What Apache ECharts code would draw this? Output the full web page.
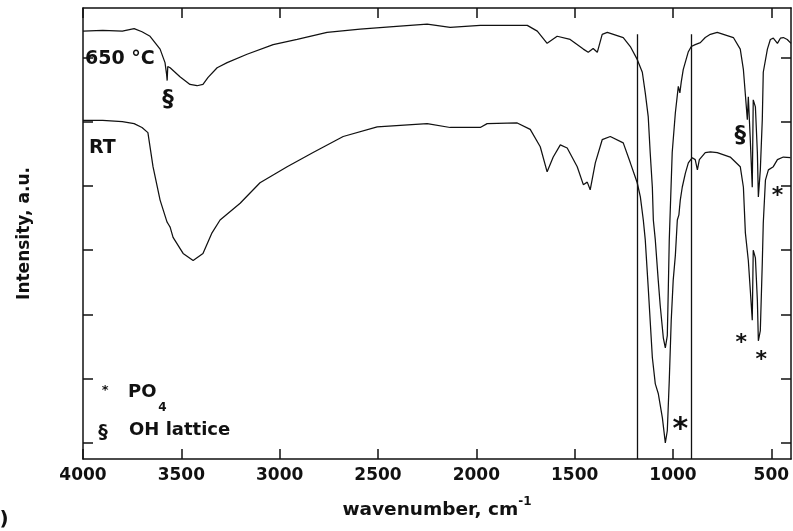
<!DOCTYPE html>
<html>
<head>
<meta charset="utf-8">
<script src="https://cdn.jsdelivr.net/npm/echarts@6/dist/echarts.min.js"></script>
<style>
  html, body { margin: 0; padding: 0; background: #fff; }
  #box { width: 793px; height: 531px; }
</style>
</head>
<body>
<div id="box"></div>
<script>
// FTIR spectra, RT and 650 °C, wavenumber axis reversed
var xTicks = [500, 1000, 1500, 2000, 2500, 3000, 3500, 4000];
var yTicks = [0, 1, 2, 3, 4, 5, 6];

var curve650 = [
    [4000, 6.41], [3900, 6.42], [3800, 6.41], [3740, 6.45], [3700, 6.40], [3659, 6.33],
    [3608, 6.13], [3583, 5.92], [3575, 5.74], [3572, 5.64], [3569, 5.86], [3557, 5.84],
    [3507, 5.70], [3456, 5.58], [3420, 5.56], [3390, 5.58], [3364, 5.69], [3318, 5.84],
    [3267, 5.92], [3166, 6.05], [3033, 6.20], [2911, 6.28], [2759, 6.39], [2591, 6.44],
    [2423, 6.48], [2250, 6.52], [2133, 6.47], [1980, 6.50], [1741, 6.50], [1690, 6.41],
    [1640, 6.22], [1589, 6.33], [1523, 6.28], [1456, 6.13], [1431, 6.08], [1406, 6.14],
    [1385, 6.08], [1360, 6.36], [1334, 6.39], [1253, 6.31], [1217, 6.17], [1182, 5.97],
    [1156, 5.77], [1141, 5.45], [1126, 5.08], [1116, 4.52], [1105, 3.98], [1100, 3.47],
    [1090, 3.16], [1075, 2.53], [1065, 2.14], [1049, 1.63], [1039, 1.48], [1029, 1.67],
    [1024, 2.38], [1019, 3.16], [1004, 4.52], [988, 5.14], [973, 5.55], [965, 5.45],
    [958, 5.62], [948, 5.81], [922, 6.09], [907, 6.17], [887, 6.20], [861, 6.23],
    [836, 6.31], [810, 6.36], [775, 6.39], [693, 6.31], [658, 6.13], [642, 5.81],
    [632, 5.42], [622, 5.03], [617, 5.39], [607, 4.72], [597, 3.98], [592, 5.34],
    [581, 5.23], [571, 4.52], [566, 3.83], [556, 4.25], [546, 5.03], [541, 5.77],
    [520, 6.13], [505, 6.28], [490, 6.30], [469, 6.22], [454, 6.30], [439, 6.31],
    [419, 6.28], [400, 6.22]
];

var curveRT = [
    [4000, 5.02], [3900, 5.02], [3800, 5.00], [3740, 4.97], [3700, 4.91], [3670, 4.83],
    [3644, 4.30], [3608, 3.78], [3573, 3.44], [3565, 3.40], [3557, 3.36], [3542, 3.20],
    [3491, 2.95], [3440, 2.84], [3390, 2.95], [3344, 3.27], [3303, 3.47], [3201, 3.73],
    [3100, 4.05], [2962, 4.30], [2830, 4.52], [2677, 4.77], [2504, 4.92], [2250, 4.97],
    [2133, 4.91], [1980, 4.91], [1945, 4.97], [1792, 4.98], [1726, 4.88], [1675, 4.61],
    [1640, 4.22], [1609, 4.45], [1573, 4.64], [1538, 4.59], [1487, 4.30], [1456, 4.02],
    [1436, 4.06], [1421, 3.94], [1395, 4.36], [1360, 4.72], [1319, 4.77], [1253, 4.67],
    [1217, 4.36], [1192, 4.14], [1182, 4.05], [1166, 3.83], [1151, 3.47], [1141, 3.16],
    [1126, 2.42], [1105, 1.33], [1090, 0.92], [1085, 0.95], [1075, 0.77], [1054, 0.39],
    [1039, 0.00], [1029, 0.19], [1019, 0.97], [1009, 1.91], [999, 2.53], [988, 2.92],
    [978, 3.47], [970, 3.55], [963, 3.78], [953, 3.98], [937, 4.20], [922, 4.36],
    [902, 4.44], [887, 4.41], [876, 4.25], [866, 4.41], [836, 4.52], [810, 4.53],
    [775, 4.52], [709, 4.45], [658, 4.30], [642, 3.98], [632, 3.27], [617, 2.84],
    [607, 2.38], [597, 1.91], [592, 3.00], [581, 2.88], [571, 2.22], [566, 1.59],
    [556, 1.75], [546, 2.80], [541, 3.42], [530, 4.09], [515, 4.25], [490, 4.30],
    [469, 4.41], [439, 4.45], [403, 4.44]
];

// the two vertical lines across the PO4 band
var cutLines = [1180, 905];
var cutTop = 6.36;

// annotations: text and where it sits (wavenumber, intensity)
var noteText = ['650 °C', 'RT', '§', '§', '*', '*', '*', '*', '*', 'PO', '4', '§', 'OH lattice'];
var notePos = [
    [3990, 5.98], [3969, 4.59], [3568, 5.34], [658, 4.77], [469, 3.91], [653, 1.63],
    [551, 1.36], [963, 0.31], [3888, 0.86], [3771, 0.78], [3618, 0.55], [3898, 0.16], [3766, 0.19]
];
var noteKind = ['tag', 'tag', 'mark', 'mark', 'star', 'star', 'star', 'bigStar', 'keyStar', 'key', 'sub', 'keyMark', 'key'];

var FONT = 'DejaVu Sans';
var kinds = {
    tag: { fontSize: 19, align: 'left' },
    mark: { fontSize: 23 },
    star: { fontSize: 22, offset: [0, 5] },
    bigStar: { fontSize: 30, offset: [0, 7] },
    keyStar: { fontSize: 13, offset: [0, 3] },
    key: { fontSize: 18, align: 'left' },
    sub: { fontSize: 12, align: 'left' },
    keyMark: { fontSize: 19 }
};

var notes = notePos.map(function (p, i) {
    var k = kinds[noteKind[i]];
    return {
        value: p,
        label: {
            show: true,
            position: 'inside',
            formatter: noteText[i],
            fontFamily: FONT,
            fontWeight: 'bold',
            fontSize: k.fontSize,
            align: k.align || 'center',
            verticalAlign: 'middle',
            offset: k.offset || [0, 0],
            color: '#111'
        }
    };
});

var cutData = cutLines.map(function (w) {
    return [{ coord: [w, cutTop] }, { coord: [w, -0.25] }];
});

function xAx(pos, withLabels) {
    return {
        type: 'value',
        position: pos,
        min: 400,
        max: 4000,
        inverse: true,
        axisLine: { show: true, onZero: false, lineStyle: { color: '#111', width: 1.5 } },
        axisTick: { show: true, inside: true, length: 10, customValues: xTicks, lineStyle: { color: '#111', width: 1.5 } },
        axisLabel: {
            show: withLabels, customValues: xTicks, margin: 8,
            formatter: function (v) { return String(v); },
            color: '#111', fontFamily: FONT, fontWeight: 'bold', fontSize: 17
        },
        splitLine: { show: false }
    };
}

function yAx(pos) {
    return {
        type: 'value',
        position: pos,
        min: -0.25,
        max: 6.77,
        axisLine: { show: true, onZero: false, lineStyle: { color: '#111', width: 1.5 } },
        axisTick: { show: true, inside: true, length: 10, customValues: yTicks, lineStyle: { color: '#111', width: 1.5 } },
        axisLabel: { show: false },
        splitLine: { show: false }
    };
}

var bottomX = xAx('bottom', true);
bottomX.name = '{t|wavenumber, cm}{s|-1}';
bottomX.nameLocation = 'middle';
bottomX.nameGap = 37;
bottomX.nameTextStyle = {
    rich: {
        t: { fontFamily: FONT, fontWeight: 'bold', fontSize: 18.5, color: '#111', lineHeight: 24, verticalAlign: 'bottom' },
        s: { fontFamily: FONT, fontWeight: 'bold', fontSize: 12, color: '#111', verticalAlign: 'top' }
    }
};

var leftY = yAx('left');
leftY.name = 'Intensity, a.u.';
leftY.nameLocation = 'middle';
leftY.nameGap = 50;
leftY.nameTextStyle = { fontFamily: FONT, fontWeight: 'bold', fontSize: 17, color: '#111' };

var myChart = echarts.init(document.getElementById('box'));
var option = {
    animation: false,
    backgroundColor: '#fff',
    grid: { left: 83, right: 2, top: 8, bottom: 72 },
    xAxis: [bottomX, xAx('top', false)],
    yAxis: [leftY, yAx('right')],
    graphic: [{
        type: 'text',
        left: -24,
        top: 510,
        style: { text: '(b)', font: 'bold 20px "DejaVu Sans"', fill: '#111' }
    }],
    series: [
        {
            name: '650 °C',
            type: 'line',
            data: curve650,
            showSymbol: false,
            symbol: 'none',
            lineStyle: { color: '#111', width: 1.25 },
            silent: true
        },
        {
            name: 'RT',
            type: 'line',
            data: curveRT,
            showSymbol: false,
            symbol: 'none',
            lineStyle: { color: '#111', width: 1.25 },
            silent: true,
            markLine: {
                silent: true,
                symbol: 'none',
                label: { show: false },
                lineStyle: { color: '#111', width: 1.3, type: 'solid' },
                data: cutData
            }
        },
        {
            name: 'notes',
            type: 'scatter',
            data: notes,
            symbolSize: 0,
            itemStyle: { opacity: 1 },
            silent: true
        }
    ]
};

option && myChart.setOption(option);
</script>
</body>
</html>
